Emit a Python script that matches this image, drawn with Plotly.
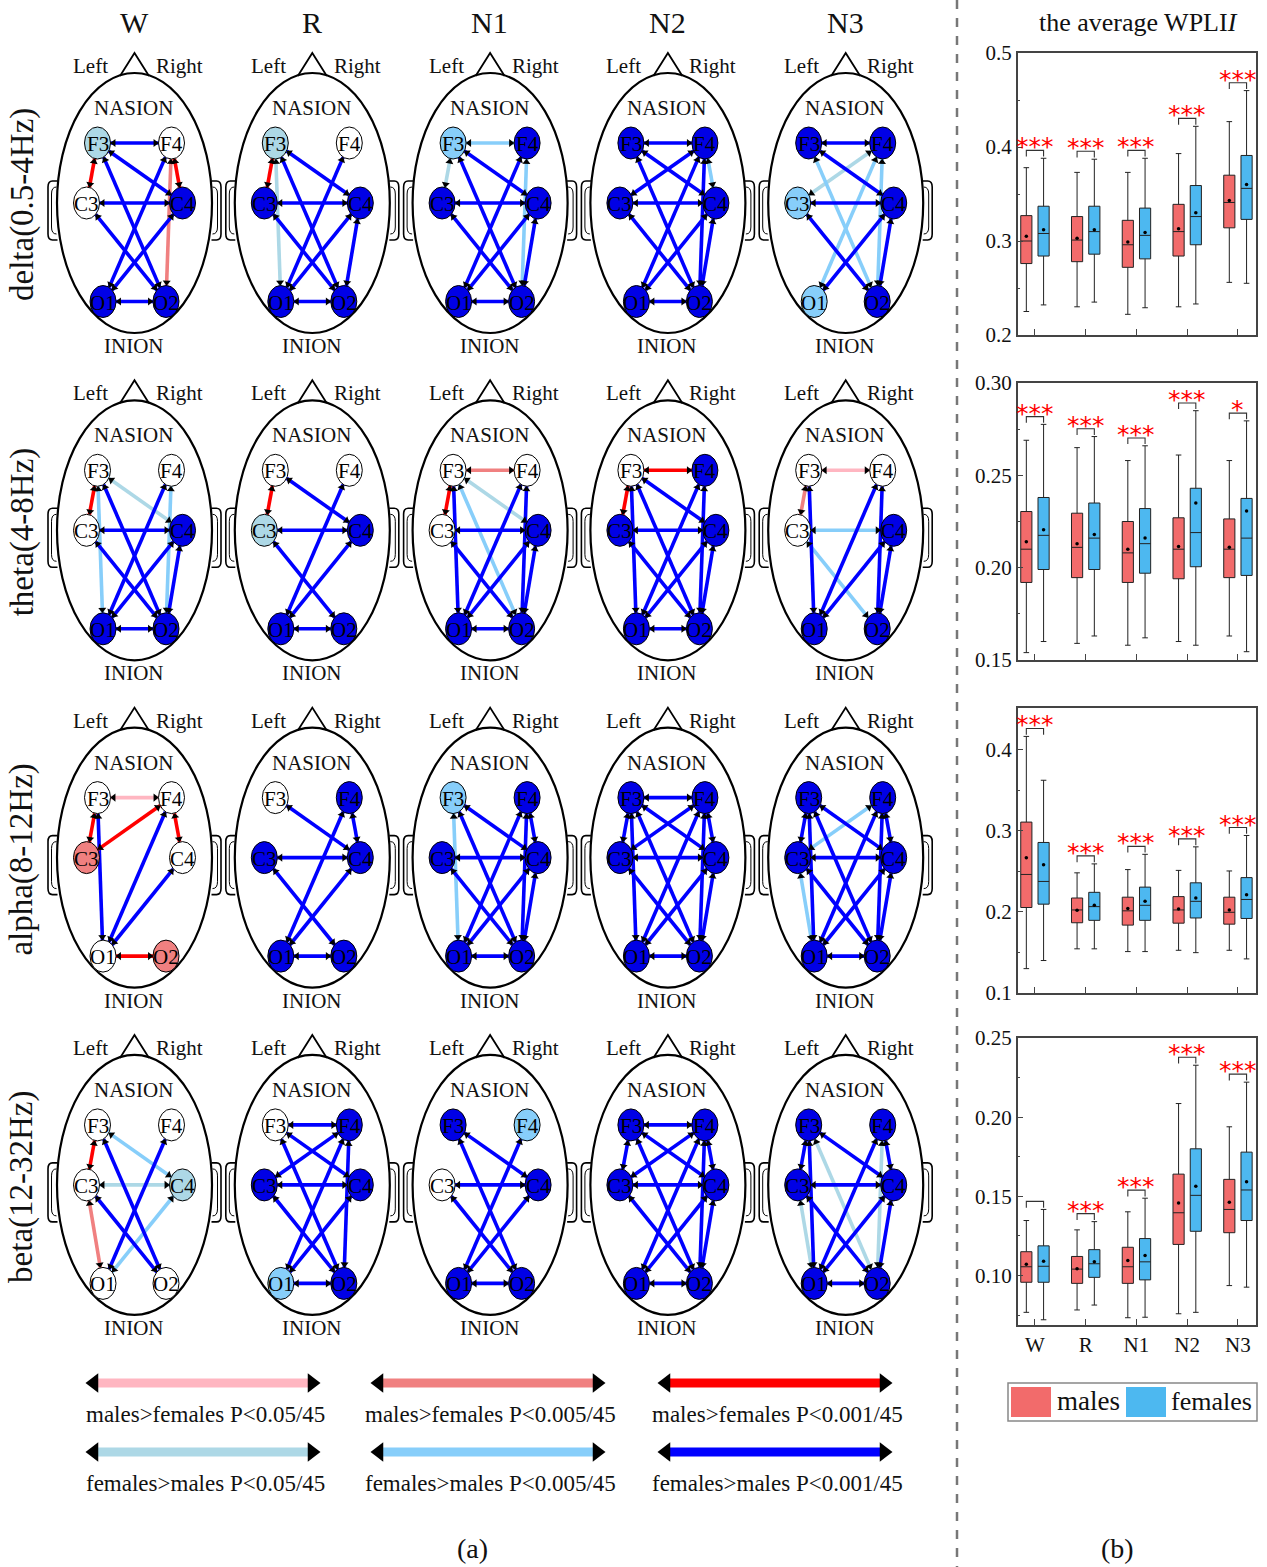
import math
import plotly.graph_objects as go

# ---------------------------------------------------------------- data
STAGES = ["W", "R", "N1", "N2", "N3"]
BANDS = ["delta(0.5-4Hz)", "theta(4-8Hz)", "alpha(8-12Hz)", "beta(12-32Hz)"]
NODES = ["F3", "F4", "C3", "C4", "O1", "O2"]

# node fills per stage: w white, lb light blue, sb sky blue, B blue, lc light coral
node_delta = [["lb", "w", "w", "B", "B", "B"], ["lb", "w", "B", "B", "B", "B"],
              ["sb", "B", "B", "B", "B", "B"], ["B", "B", "B", "B", "B", "B"],
              ["B", "B", "sb", "B", "sb", "B"]]
node_theta = [["w", "w", "w", "B", "B", "B"], ["w", "w", "lb", "B", "B", "B"],
              ["w", "w", "w", "B", "B", "B"], ["w", "B", "B", "B", "B", "B"],
              ["w", "w", "w", "B", "B", "B"]]
node_alpha = [["w", "w", "lc", "w", "w", "lc"], ["w", "B", "B", "B", "B", "B"],
              ["sb", "B", "B", "B", "B", "B"], ["B", "B", "B", "B", "B", "B"],
              ["B", "B", "B", "B", "B", "B"]]
node_beta = [["w", "w", "w", "lb", "w", "w"], ["w", "B", "B", "B", "sb", "B"],
             ["B", "sb", "w", "B", "B", "B"], ["B", "B", "B", "B", "B", "B"],
             ["B", "B", "B", "B", "B", "B"]]

# edges: (node, node, level); level > 0 males>females, < 0 females>males
# |level| 1: P<0.05/45, 2: P<0.005/45, 3: P<0.001/45
edges_delta = [
    [("F3", "F4", -3), ("F3", "C3", 3), ("F4", "C4", 3), ("F4", "O2", 2), ("F3", "C4", -3), ("F3", "O2", -3),
     ("F4", "O1", -3), ("C3", "C4", -3), ("C3", "O2", -3), ("C4", "O1", -3), ("O1", "O2", -3)],
    [("F3", "C3", 3), ("F3", "O1", -1), ("F3", "C4", -3), ("F3", "O2", -3), ("F4", "O1", -3), ("C3", "C4", -3),
     ("C3", "O2", -3), ("C4", "O1", -3), ("C4", "O2", -3), ("O1", "O2", -3)],
    [("F3", "F4", -2), ("F3", "C3", -1), ("F3", "C4", -3), ("F3", "O2", -3), ("F4", "O1", -3), ("F4", "O2", -2),
     ("C3", "C4", -3), ("C3", "O2", -3), ("C4", "O1", -3), ("C4", "O2", -3), ("O1", "O2", -3)],
    [("F3", "F4", -3), ("F3", "C4", -3), ("F3", "O2", -3), ("F4", "C3", -3), ("F4", "C4", -2), ("F4", "O1", -3),
     ("F4", "O2", -3), ("C3", "C4", -3), ("C3", "O2", -3), ("C4", "O1", -3), ("C4", "O2", -3), ("O1", "O2", -3)],
    [("F3", "F4", -3), ("F3", "C4", -3), ("F3", "O2", -2), ("F4", "C3", -1), ("F4", "O1", -2), ("F4", "O2", -2),
     ("C3", "C4", -3), ("C3", "O2", -3), ("C4", "O1", -3), ("C4", "O2", -3)],
]
edges_theta = [
    [("F3", "C3", 3), ("F3", "C4", -1), ("F3", "O1", -2), ("F3", "O2", -3), ("F4", "O1", -3), ("F4", "O2", -2),
     ("C3", "C4", -3), ("C3", "O2", -3), ("C4", "O1", -3), ("C4", "O2", -3), ("O1", "O2", -3)],
    [("F3", "C3", 3), ("F3", "C4", -3), ("F4", "O1", -3), ("C3", "C4", -3), ("C3", "O2", -3), ("C4", "O1", -3),
     ("O1", "O2", -3)],
    [("F3", "F4", 2), ("F3", "C3", 3), ("F3", "C4", -1), ("F3", "O1", -3), ("F3", "O2", -2), ("F4", "O1", -3),
     ("F4", "O2", -3), ("C3", "C4", -3), ("C3", "O2", -3), ("C4", "O1", -3), ("C4", "O2", -3), ("O1", "O2", -3)],
    [("F3", "F4", 3), ("F3", "C3", 3), ("F3", "C4", -3), ("F3", "O1", -3), ("F3", "O2", -3), ("F4", "O1", -3),
     ("F4", "O2", -3), ("C3", "C4", -3), ("C3", "O2", -3), ("C4", "O1", -3), ("C4", "O2", -3), ("O1", "O2", -3)],
    [("F3", "F4", 1), ("F3", "C3", 2), ("F3", "O1", -3), ("F4", "O1", -3), ("F4", "O2", -3), ("C3", "C4", -2),
     ("C3", "O2", -2), ("C4", "O1", -3), ("C4", "O2", -3)],
]
edges_alpha = [
    [("F3", "F4", 1), ("F3", "C3", 3), ("F4", "C3", 3), ("F4", "C4", 3), ("F3", "O1", -3), ("F4", "O1", -3),
     ("C4", "O1", -3), ("O1", "O2", 3)],
    [("F3", "C4", -3), ("F4", "C4", -3), ("F4", "O1", -3), ("C3", "C4", -3), ("C3", "O2", -3), ("C4", "O1", -3),
     ("O1", "O2", -3)],
    [("F3", "O1", -2), ("F3", "C4", -3), ("F3", "O2", -3), ("F4", "C4", -3), ("F4", "O1", -3), ("F4", "O2", -3),
     ("C3", "C4", -3), ("C3", "O2", -3), ("C4", "O1", -3), ("C4", "O2", -3), ("O1", "O2", -3)],
    [("F3", "F4", -3), ("F3", "C3", -3), ("F3", "C4", -3), ("F3", "O1", -3), ("F3", "O2", -3), ("F4", "C3", -3),
     ("F4", "C4", -3), ("F4", "O1", -3), ("F4", "O2", -3), ("C3", "C4", -3), ("C3", "O2", -3), ("C4", "O1", -3),
     ("C4", "O2", -3), ("O1", "O2", -3)],
    [("F3", "C3", -3), ("F3", "O1", -3), ("F3", "C4", -3), ("F3", "O2", -3), ("F4", "C3", -2), ("F4", "C4", -3),
     ("F4", "O1", -3), ("F4", "O2", -3), ("C3", "C4", -3), ("C3", "O1", -2), ("C3", "O2", -3), ("C4", "O1", -3),
     ("C4", "O2", -3), ("O1", "O2", -3)],
]
edges_beta = [
    [("F3", "C3", 3), ("F3", "C4", -2), ("F3", "O2", -3), ("F4", "O1", -3), ("C3", "C4", -1), ("C3", "O1", 2),
     ("C3", "O2", -3), ("C4", "O1", -2)],
    [("F3", "F4", -3), ("F3", "C4", -3), ("F3", "O2", -3), ("F4", "C3", -3), ("F4", "O1", -3), ("F4", "O2", -3),
     ("C3", "C4", -3), ("C3", "O2", -3), ("C4", "O1", -3), ("O1", "O2", -3)],
    [("F3", "C4", -3), ("F3", "O2", -3), ("F4", "O1", -3), ("C3", "C4", -3), ("C3", "O2", -3), ("C4", "O1", -3),
     ("O1", "O2", -3)],
    [("F3", "F4", -3), ("F3", "C3", -3), ("F3", "C4", -3), ("F3", "O2", -3), ("F4", "C3", -3), ("F4", "C4", -3),
     ("F4", "O1", -3), ("F4", "O2", -3), ("C3", "C4", -3), ("C3", "O2", -3), ("C4", "O1", -3), ("C4", "O2", -3),
     ("O1", "O2", -3)],
    [("F3", "C3", -3), ("F3", "O1", -3), ("F3", "C4", -3), ("F3", "O2", -1), ("F4", "C4", -3), ("F4", "O1", -3),
     ("F4", "O2", -1), ("C3", "C4", -3), ("C3", "O1", -1), ("C3", "O2", -3), ("C4", "O1", -3), ("C4", "O2", -3),
     ("O1", "O2", -3)],
]

# box plot statistics (average WPLI) per stage W, R, N1, N2, N3
delta_males = {"lf": [0.225, 0.230, 0.222, 0.230, 0.256], "q1": [0.276, 0.278, 0.272, 0.284, 0.314],
               "med": [0.300, 0.301, 0.296, 0.310, 0.341], "mean": [0.305, 0.303, 0.299, 0.313, 0.343],
               "q3": [0.327, 0.326, 0.322, 0.339, 0.370], "uf": [0.378, 0.373, 0.373, 0.393, 0.427]}
delta_females = {"lf": [0.232, 0.235, 0.229, 0.233, 0.255], "q1": [0.284, 0.286, 0.281, 0.296, 0.323],
                 "med": [0.308, 0.310, 0.306, 0.326, 0.356], "mean": [0.312, 0.312, 0.309, 0.330, 0.360],
                 "q3": [0.337, 0.337, 0.335, 0.359, 0.391], "uf": [0.388, 0.387, 0.388, 0.422, 0.460]}
theta_males = {"lf": [0.154, 0.159, 0.158, 0.160, 0.163], "q1": [0.192, 0.1946, 0.192, 0.194, 0.1946],
               "med": [0.210, 0.211, 0.208, 0.210, 0.210], "mean": [0.214, 0.213, 0.210, 0.2115, 0.211],
               "q3": [0.2304, 0.2295, 0.225, 0.227, 0.2264], "uf": [0.269, 0.265, 0.258, 0.261, 0.258]}
theta_females = {"lf": [0.160, 0.163, 0.162, 0.158, 0.1545], "q1": [0.199, 0.199, 0.197, 0.2005, 0.1958],
                 "med": [0.2175, 0.216, 0.213, 0.219, 0.216], "mean": [0.2205, 0.218, 0.216, 0.235, 0.2307],
                 "q3": [0.238, 0.235, 0.232, 0.243, 0.2375], "uf": [0.2776, 0.271, 0.266, 0.285, 0.2795]}
alpha_males = {"lf": [0.130, 0.1544, 0.151, 0.1526, 0.1526], "q1": [0.2053, 0.1865, 0.1836, 0.186, 0.1848],
               "med": [0.246, 0.2023, 0.2012, 0.2023, 0.1994], "mean": [0.2667, 0.202, 0.204, 0.2035, 0.2023],
               "q3": [0.3105, 0.217, 0.218, 0.2187, 0.218], "uf": [0.416, 0.248, 0.252, 0.251, 0.2503]}
alpha_females = {"lf": [0.140, 0.1544, 0.151, 0.1497, 0.142], "q1": [0.2094, 0.1895, 0.1895, 0.1924, 0.1918],
                 "med": [0.2374, 0.2064, 0.208, 0.2129, 0.2152], "mean": [0.258, 0.208, 0.2129, 0.217, 0.221],
                 "q3": [0.2854, 0.224, 0.2304, 0.2357, 0.2421], "uf": [0.362, 0.259, 0.2708, 0.280, 0.294]}
beta_males = {"lf": [0.0767, 0.0782, 0.0733, 0.0758, 0.0936], "q1": [0.0957, 0.095, 0.095, 0.1196, 0.127],
              "med": [0.1055, 0.104, 0.1055, 0.1396, 0.1417], "mean": [0.107, 0.1043, 0.1095, 0.1457, 0.1463],
              "q3": [0.115, 0.112, 0.1178, 0.164, 0.1607], "uf": [0.1347, 0.1288, 0.1402, 0.2086, 0.1939]}
beta_females = {"lf": [0.072, 0.0813, 0.0736, 0.0767, 0.0926], "q1": [0.0957, 0.0988, 0.0972, 0.1279, 0.1347],
                "med": [0.1058, 0.1074, 0.1086, 0.1506, 0.154], "mean": [0.1089, 0.1086, 0.1126, 0.1564, 0.1592],
                "q3": [0.1187, 0.1163, 0.1233, 0.180, 0.1779], "uf": [0.1417, 0.134, 0.1488, 0.2328, 0.2221]}

delta_sig = ["***", "***", "***", "***", "***"]
theta_sig = ["***", "***", "***", "***", "*"]
alpha_sig = ["***", "***", "***", "***", "***"]
beta_sig = ["", "***", "***", "***", "***"]

delta_ticks = [0.2, 0.3, 0.4, 0.5]
theta_ticks = [0.15, 0.20, 0.25, 0.30]
alpha_ticks = [0.1, 0.2, 0.3, 0.4]
beta_ticks = [0.10, 0.15, 0.20, 0.25]

legend_levels = [1, 2, 3, -1, -2, -3]
legend_labels = ["males>females P<0.05/45", "males>females P<0.005/45", "males>females P<0.001/45",
                 "females>males P<0.05/45", "females>males P<0.005/45", "females>males P<0.001/45"]

# ---------------------------------------------------------------- style
W, H = 1267, 1567
SERIF = "Liberation Serif, Times New Roman, serif"
NODE_FILL = {"w": "#FFFFFF", "lb": "#ADD8E6", "sb": "#87CEFA", "B": "#0000E6", "lc": "#F08080"}
EDGE_COL = {1: "#FFB6C1", 2: "#F08080", 3: "#FF0000", -1: "#ADD8E6", -2: "#87CEFA", -3: "#0000FF"}
MALE_COL, FEMALE_COL = "#F26B6B", "#4DB8F0"

HX0, HDX, HY0, HDY = 134.5, 177.8, 203.0, 327.3
NODE_OFF = {"F3": (-37, -60), "F4": (37, -60), "C3": (-48, 0), "C4": (48, 0), "O1": (-31.5, 98.5),
            "O2": (31.5, 98.5)}
NRX, NRY = 13.0, 16.0

shapes, annotations = [], []
fig = go.Figure()


def text(x, y, s, size, xref="x", yref="y", color="#111", family=SERIF, **kw):
    annotations.append(dict(x=x, y=y, xref=xref, yref=yref, text=s, showarrow=False,
                            font=dict(family=family, size=size, color=color), **kw))


edge_lines = {k: ([], []) for k in EDGE_COL}
head_x, head_y, head_a = [], [], []

node_sets = [node_delta, node_theta, node_alpha, node_beta]
edge_sets = [edges_delta, edges_theta, edges_alpha, edges_beta]

for r in range(4):
    cy = HY0 + r * HDY
    text(22, cy + 2, BANDS[r], 33, textangle=-90)
    for c in range(5):
        cx = HX0 + c * HDX
        # ears
        for s in (-1, 1):
            p = (f"M {cx+s*77} {cy-22} L {cx+s*82} {cy-22} Q {cx+s*86.5} {cy-22} {cx+s*86.5} {cy-16} "
                 f"L {cx+s*86.5} {cy+31} Q {cx+s*86.5} {cy+37} {cx+s*82} {cy+37} L {cx+s*77} {cy+37}")
            shapes.append(dict(type="path", path=p, xref="x", yref="y", line=dict(color="#000", width=1.6),
                               layer="below"))
            p2 = (f"M {cx+s*78} {cy-16} Q {cx+s*83} {cy-16} {cx+s*83} {cy-9} L {cx+s*83} {cy+24} "
                  f"Q {cx+s*83} {cy+31} {cx+s*78} {cy+31}")
            shapes.append(dict(type="path", path=p2, xref="x", yref="y", line=dict(color="#000", width=1.0),
                               layer="below"))
        shapes.append(dict(type="circle", xref="x", yref="y", x0=cx - 77.5, x1=cx + 77.5, y0=cy - 130,
                           y1=cy + 130, line=dict(color="#000", width=2.2), fillcolor="rgba(255,255,255,0)",
                           layer="below"))
        shapes.append(dict(type="path", xref="x", yref="y",
                           path=f"M {cx-14.5} {cy-127} L {cx} {cy-150} L {cx+14.5} {cy-127}",
                           line=dict(color="#000", width=1.8), layer="below"))
        text(cx - 44, cy - 137, "Left", 21)
        text(cx + 45, cy - 137, "Right", 21)
        text(cx - 1, cy - 95, "NASION", 21)
        text(cx - 1, cy + 143, "INION", 21)
        if r == 0:
            text(cx - 0.5, 22, STAGES[c], 30)
        # edges
        for a, b, lev in edge_sets[r][c]:
            ax_, ay_ = cx + NODE_OFF[a][0], cy + NODE_OFF[a][1]
            bx_, by_ = cx + NODE_OFF[b][0], cy + NODE_OFF[b][1]
            dx, dy = bx_ - ax_, by_ - ay_
            L = math.hypot(dx, dy)
            ux, uy = dx / L, dy / L
            rr = 1.0 / math.sqrt((ux / NRX) ** 2 + (uy / NRY) ** 2)
            px, py = ax_ + ux * rr, ay_ + uy * rr
            qx, qy = bx_ - ux * rr, by_ - uy * rr
            xs, ys = edge_lines[lev]
            xs += [px, qx, None]
            ys += [py, qy, None]
            head_x += [px + ux * 3.2, qx - ux * 3.2]
            head_y += [py + uy * 3.2, qy - uy * 3.2]
            head_a += [math.degrees(math.atan2(-ux, uy)), math.degrees(math.atan2(ux, -uy))]
        # nodes
        for k, nm in enumerate(NODES):
            nx, ny = cx + NODE_OFF[nm][0], cy + NODE_OFF[nm][1]
            shapes.append(dict(type="circle", xref="x", yref="y", x0=nx - NRX, x1=nx + NRX, y0=ny - NRY,
                               y1=ny + NRY, fillcolor=NODE_FILL[node_sets[r][c][k]],
                               line=dict(color="#000", width=1), layer="above"))
            text(nx, ny + 1, nm, 21, color="#000")

for lev in (-1, 1, -2, 2, -3, 3):
    xs, ys = edge_lines[lev]
    if xs:
        fig.add_trace(go.Scatter(x=xs, y=ys, mode="lines", line=dict(color=EDGE_COL[lev], width=3.6),
                                 hoverinfo="skip", showlegend=False, xaxis="x", yaxis="y"))
fig.add_trace(go.Scatter(x=head_x, y=head_y, mode="markers",
                         marker=dict(symbol="triangle-up", size=7, color="#000", angle=head_a,
                                     line=dict(width=0)),
                         hoverinfo="skip", showlegend=False, xaxis="x", yaxis="y"))

# significance legend (bottom left)
LEG_X = [(88, 318), (373, 603), (660, 890)]
LEG_Y = [1383, 1452]
for i, lev in enumerate(legend_levels):
    rr_, cc_ = divmod(i, 3)
    x0, x1 = LEG_X[cc_]
    y = LEG_Y[rr_]
    fig.add_trace(go.Scatter(x=[x0 + 8, x1 - 8], y=[y, y], mode="lines",
                             line=dict(color=EDGE_COL[lev], width=9), hoverinfo="skip", showlegend=False,
                             xaxis="x", yaxis="y"))
    fig.add_trace(go.Scatter(x=[x0 + 6, x1 - 6], y=[y, y], mode="markers",
                             marker=dict(symbol=["triangle-left", "triangle-right"], size=17, color="#000"),
                             hoverinfo="skip", showlegend=False, xaxis="x", yaxis="y"))
    text((x0 + x1) / 2 + 2, y + 31, legend_labels[i], 23)

text(472, 1548, "(a)", 28)
text(1117, 1548, "(b)", 28)
text(1138, 22, "the average WPLI<i>I</i>", 26)

# dashed separator
shapes.append(dict(type="line", xref="x", yref="y", x0=957, x1=957, y0=0, y1=H,
                   line=dict(color="#777", width=2.5, dash="dash")))

# ---------------------------------------------------------------- box plots
PANEL_PX = [(53, 335), (383, 660), (708, 993), (1038, 1325)]
PANEL_RANGE = [[0.2, 0.5], [0.15, 0.30], [0.1, 0.451], [0.0687, 0.25]]
PANEL_TICKS = [delta_ticks, theta_ticks, alpha_ticks, beta_ticks]
PANEL_FMT = ["{:.1f}", "{:.2f}", "{:.1f}", "{:.2f}"]
PANEL_MINOR = [[0.25, 0.35, 0.45], [0.175, 0.225, 0.275], [0.15, 0.25, 0.35], [0.075, 0.125, 0.175, 0.225]]
PANEL_DATA = [(delta_males, delta_females, delta_sig), (theta_males, theta_females, theta_sig),
              (alpha_males, alpha_females, alpha_sig), (beta_males, beta_females, beta_sig)]
XD = [1017.7 / W, 1255.7 / W]
OFF, BW = 0.17, 0.22

layout_axes = {}
for p in range(4):
    n = p + 2
    xa, ya = f"x{n}", f"y{n}"
    top, bot = PANEL_PX[p]
    lo, hi = PANEL_RANGE[p]
    span = hi - lo
    males, females, sig = PANEL_DATA[p]
    for stats, off, col in ((males, -OFF, MALE_COL), (females, OFF, FEMALE_COL)):
        fig.add_trace(go.Box(x=[i + off for i in range(5)], q1=stats["q1"], median=stats["med"],
                             q3=stats["q3"], lowerfence=stats["lf"], upperfence=stats["uf"],
                             width=BW, whiskerwidth=0.5, fillcolor=col, line=dict(color="#222", width=1),
                             boxpoints=False, hoverinfo="skip", showlegend=False, xaxis=xa, yaxis=ya))
        fig.add_trace(go.Scatter(x=[i + off for i in range(5)], y=stats["mean"], mode="markers",
                                 marker=dict(color="#000", size=3.5), hoverinfo="skip", showlegend=False,
                                 xaxis=xa, yaxis=ya))
    bx, by = [], []
    for i in range(5):
        yb = max(males["uf"][i], females["uf"][i]) + 0.028 * span
        bx += [i - OFF, i - OFF, i + OFF, i + OFF, None]
        by += [yb - 0.022 * span, yb, yb, yb - 0.022 * span, None]
        if sig[i]:
            annotations.append(dict(x=i, y=yb, xref=xa, yref=ya, text=sig[i], showarrow=False,
                                    yanchor="bottom", yshift=-13,
                                    font=dict(family="DejaVu Sans, Arial", size=25, color="#FF0000")))
    fig.add_trace(go.Scatter(x=bx, y=by, mode="lines", line=dict(color="#333", width=1.1),
                             hoverinfo="skip", showlegend=False, xaxis=xa, yaxis=ya))
    ticks = PANEL_TICKS[p]
    layout_axes[f"xaxis{n}"] = dict(domain=XD, anchor=ya, range=[-0.34, 4.35], showgrid=False, zeroline=False,
                                    showline=True, mirror=True, linecolor="#444", linewidth=1.5,
                                    ticks="inside", ticklen=6, tickcolor="#444", tickvals=list(range(5)),
                                    ticktext=STAGES, showticklabels=(p == 3), automargin=False,
                                    tickfont=dict(family=SERIF, size=21, color="#111"), fixedrange=True)
    layout_axes[f"yaxis{n}"] = dict(domain=[1 - bot / H, 1 - top / H], anchor=xa, range=[lo, hi],
                                    showgrid=False, zeroline=False, showline=True, mirror=True,
                                    linecolor="#444", linewidth=1.5, ticks="inside", ticklen=6,
                                    tickcolor="#444", tickvals=ticks, automargin=False,
                                    ticktext=[PANEL_FMT[p].format(t) for t in ticks],
                                    tickfont=dict(family=SERIF, size=21, color="#111"),
                                    minor=dict(ticks="inside", ticklen=3, tickcolor="#444",
                                               tickvals=PANEL_MINOR[p]),
                                    fixedrange=True)

# males / females legend (bottom right)
shapes.append(dict(type="rect", xref="x", yref="y", x0=1008, x1=1257, y0=1383, y1=1421,
                   line=dict(color="#888", width=1.5), fillcolor="#FFFFFF", layer="below"))
shapes.append(dict(type="rect", xref="x", yref="y", x0=1011, x1=1051, y0=1387, y1=1417,
                   line=dict(width=0), fillcolor=MALE_COL, layer="above"))
shapes.append(dict(type="rect", xref="x", yref="y", x0=1126, x1=1166, y0=1387, y1=1417,
                   line=dict(width=0), fillcolor=FEMALE_COL, layer="above"))
text(1055, 1401, "males", 27, xanchor="left", family="Liberation Serif")
text(1169, 1401, "females", 26, xanchor="left", family="Liberation Serif")

fig.update_layout(
    template="none",
    width=W, height=H, autosize=False, margin=dict(l=0, r=0, t=0, b=0, pad=0),
    paper_bgcolor="white", plot_bgcolor="rgba(0,0,0,0)", showlegend=False,
    xaxis=dict(domain=[0, 1], range=[0, W], visible=False, fixedrange=True, automargin=False),
    yaxis=dict(domain=[0, 1], range=[H, 0], visible=False, fixedrange=True, automargin=False),
    shapes=shapes, annotations=annotations, **layout_axes,
)
fig.write_html("out.html", config={"displayModeBar": False})
